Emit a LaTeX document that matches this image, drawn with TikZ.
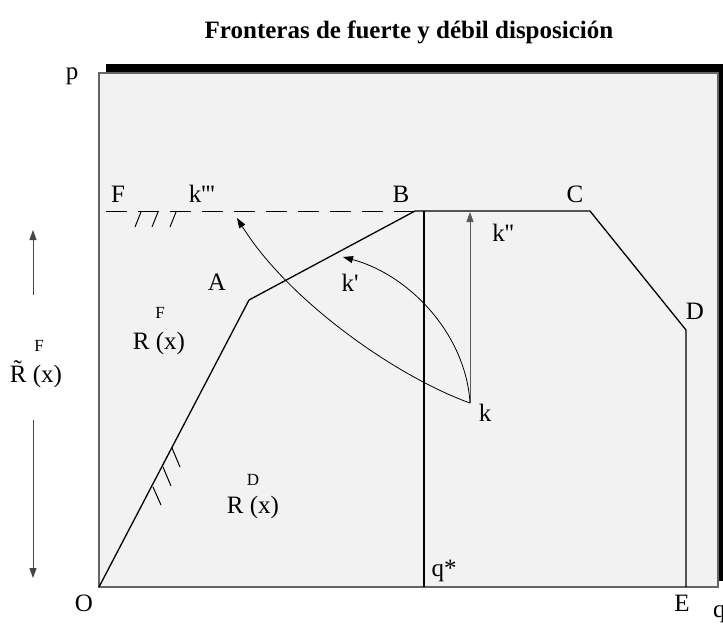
\documentclass[tikz,border=0pt]{standalone}
\usepackage{fontspec}
\setmainfont{Liberation Serif}
\usetikzlibrary{arrows.meta}
\newcommand{\pr}{\textquotesingle}
\begin{document}
\begin{tikzpicture}[x=1pt,y=-1pt,
  lbl/.style={inner sep=0pt,font=\fontsize{25}{25}\selectfont},
  sup/.style={inner sep=0pt,font=\fontsize{17}{17}\selectfont},
  ln/.style={line width=1.3pt,black},
  arr/.style={line width=0.8pt,-{Triangle[length=10pt,width=7pt]}},
  hatch/.style={line width=1pt,black}]
\useasboundingbox (0,0) rectangle (723,625);
% title
\node[inner sep=0pt,font=\bfseries\fontsize{25}{25}\selectfont] (title) at (409,32) {Fronteras de fuerte y débil disposición};
% shadow and box
\fill[black] (106,64) rectangle (724,581);
\draw[fill={rgb,255:red,242;green,242;blue,242},draw={rgb,255:red,100;green,100;blue,100},line width=1.3pt] (99,73) rectangle (718,587);
% points
\coordinate (O) at (99,587);
\coordinate (A) at (249,300);
\coordinate (B) at (415,211);
\coordinate (C) at (590,211);
\coordinate (D) at (686,330);
\coordinate (E) at (686,587);
\coordinate (Fs) at (106,211);
\coordinate (qt) at (424,211);
\coordinate (qb) at (424,587);
\coordinate (k) at (470,403);
\coordinate (k2) at (470,212);
\coordinate (k1) at (343,257);
\coordinate (k3) at (237,218);
\coordinate (ua) at (33,295);
\coordinate (ub) at (33,230);
\coordinate (da) at (33,420);
\coordinate (db) at (33,578);
% frontier
\draw[ln,line join=miter] (O) -- (A) -- (B) -- (C) -- (D) -- (E);
\draw[line width=1pt,dash pattern=on 21pt off 11pt,black] (Fs) -- (B);
\draw[ln] (qt) -- (qb);
% hatches on dashed line
\draw[hatch] (135,227) -- (141,212);
\draw[hatch] (152,227) -- (158,212);
\draw[hatch] (170,227) -- (176,212);
% hatches on OA
\draw[hatch] (172,448) -- (180,467);
\draw[hatch] (163,467) -- (171,486);
\draw[hatch] (153,487) -- (161,505);
% arrows from k
\draw[arr,draw={rgb,255:red,90;green,90;blue,90},fill={rgb,255:red,90;green,90;blue,90}] (k) -- (k2);
\draw[arr] (k) .. controls (466,335) and (410,275) .. (k1);
\draw[arr] (k) .. controls (395,376) and (288,300) .. (k3);
% left arrows
\draw[arr,draw={rgb,255:red,70;green,70;blue,70}] (ua) -- (ub);
\draw[arr,draw={rgb,255:red,70;green,70;blue,70}] (da) -- (db);
% labels
\node[lbl] (lp) at (72,76) {p};
\node[lbl] (lF) at (118,194) {F};
\node[lbl] (lk3) at (202,194) {k\pr\pr\pr};
\node[lbl] (lB) at (401,194) {B};
\node[lbl] (lC) at (575,194) {C};
\node[lbl] (lk2) at (503,233) {k\pr\pr};
\node[lbl] (lA) at (217,282) {A};
\node[lbl] (lk1) at (350,283) {k\pr};
\node[lbl] (lD) at (695,311) {D};
\node[lbl] (lk) at (485,413) {k};
\node[lbl] (lqs) at (444,571) {q*};
\node[lbl] (lO) at (84,603) {O};
\node[lbl] (lE) at (682,603) {E};
\node[lbl,anchor=west] (lq) at (713,614) {q};
\node[sup] (lRFs) at (160,313) {F};
\node[lbl] (lRF) at (159,343) {R (x)};
\node[sup] (lRDs) at (253,480) {D};
\node[lbl] (lRD) at (253,507) {R (x)};
\node[sup] (lRts) at (39,346) {F};
\node[lbl] (lRt) at (36,374) {\~{R} (x)};
\end{tikzpicture}
\end{document}
